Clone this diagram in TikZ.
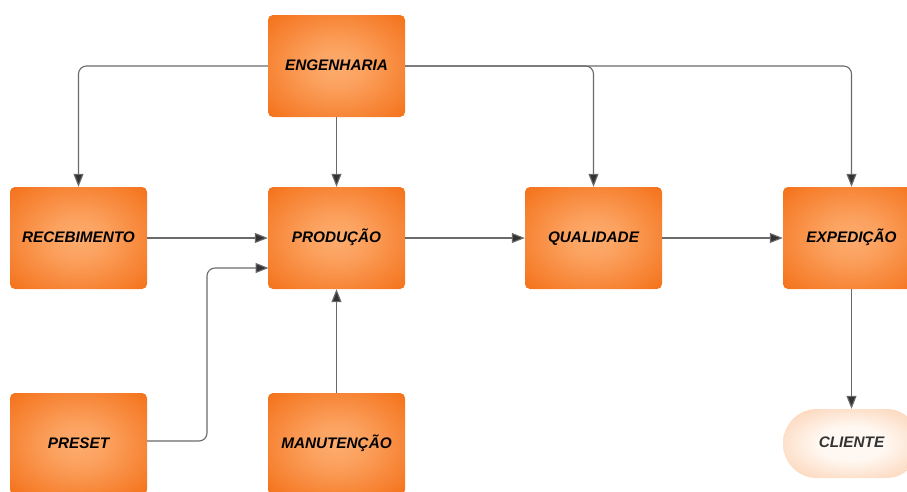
\documentclass[tikz,border=0pt]{standalone}
\usepackage{fontspec}
\setmainfont{Liberation Sans}
\usetikzlibrary{arrows.meta}
\definecolor{boxout}{HTML}{F26508}
\definecolor{boxin}{HTML}{FDAC6E}
\definecolor{cliout}{HTML}{F9B888}
\definecolor{cliin}{HTML}{FFF8F2}
\definecolor{linec}{HTML}{6A6A6A}
\definecolor{tipc}{HTML}{333333}
\pgfdeclareradialshading{boxshade}{\pgfpoint{0bp}{0bp}}{color(0bp)=(boxin); color(10bp)=(boxin!85!boxout); color(42bp)=(boxout); color(100bp)=(boxout)}
\pgfdeclareradialshading{clishade}{\pgfpoint{0bp}{0bp}}{color(0bp)=(cliin); color(12bp)=(cliin); color(48bp)=(cliout); color(100bp)=(cliout)}
\tikzset{
  procbox/.style={rectangle, rounded corners=5pt, minimum width=137pt, minimum height=102pt,
    shading=boxshade, font=\fontsize{15.3}{17}\selectfont\bfseries\itshape, text=black,
    text height=11pt, text depth=3pt},
  endbox/.style={rectangle, rounded corners=34pt, minimum width=137pt, minimum height=69pt,
    shading=clishade, font=\fontsize{15.3}{17}\selectfont\bfseries\itshape, text=black!80,
    text height=11pt, text depth=3pt},
  conn/.style={draw=linec, line width=1.1pt, rounded corners=8pt,
    -{Triangle[length=13pt,width=10pt,fill=tipc]}}
}
\begin{document}
\begin{tikzpicture}[x=1pt,y=-1pt]
\useasboundingbox (0,0) rectangle (907,491);
\begin{scope}
\clip (0,0) rectangle (907,491);
\node[procbox] (eng) at (336.5,66) {ENGENHARIA};
\node[procbox] (rec) at (78.5,238) {RECEBIMENTO};
\node[procbox] (pro) at (336.5,238) {PRODUÇÃO};
\node[procbox] (qua) at (593.5,238) {QUALIDADE};
\node[procbox] (exp) at (851.5,238) {EXPEDIÇÃO};
\node[procbox] (pre) at (78.5,444) {PRESET};
\node[procbox] (man) at (336.5,444) {MANUTENÇÃO};
\node[endbox] (cli) at (851.5,443.5) {CLIENTE};

\draw[conn] (eng.west) -| (rec.north);
\draw[conn] (eng.south) -- (pro.north);
\draw[conn] (eng.east) -| (qua.north);
\draw[conn] (eng.east) -| (exp.north);
\draw[conn] (rec.east) -- (pro.west);
\draw[conn] (pro.east) -- (qua.west);
\draw[conn] (qua.east) -- (exp.west);
\coordinate (pin) at (268.5,268);
\draw[conn] (pre.east |- 0,441) -| (207,268) -- (pin);
\draw[conn] (man.north) -- (pro.south);
\draw[conn] (exp.south) -- (cli.north);
\end{scope}
\end{tikzpicture}
\end{document}
